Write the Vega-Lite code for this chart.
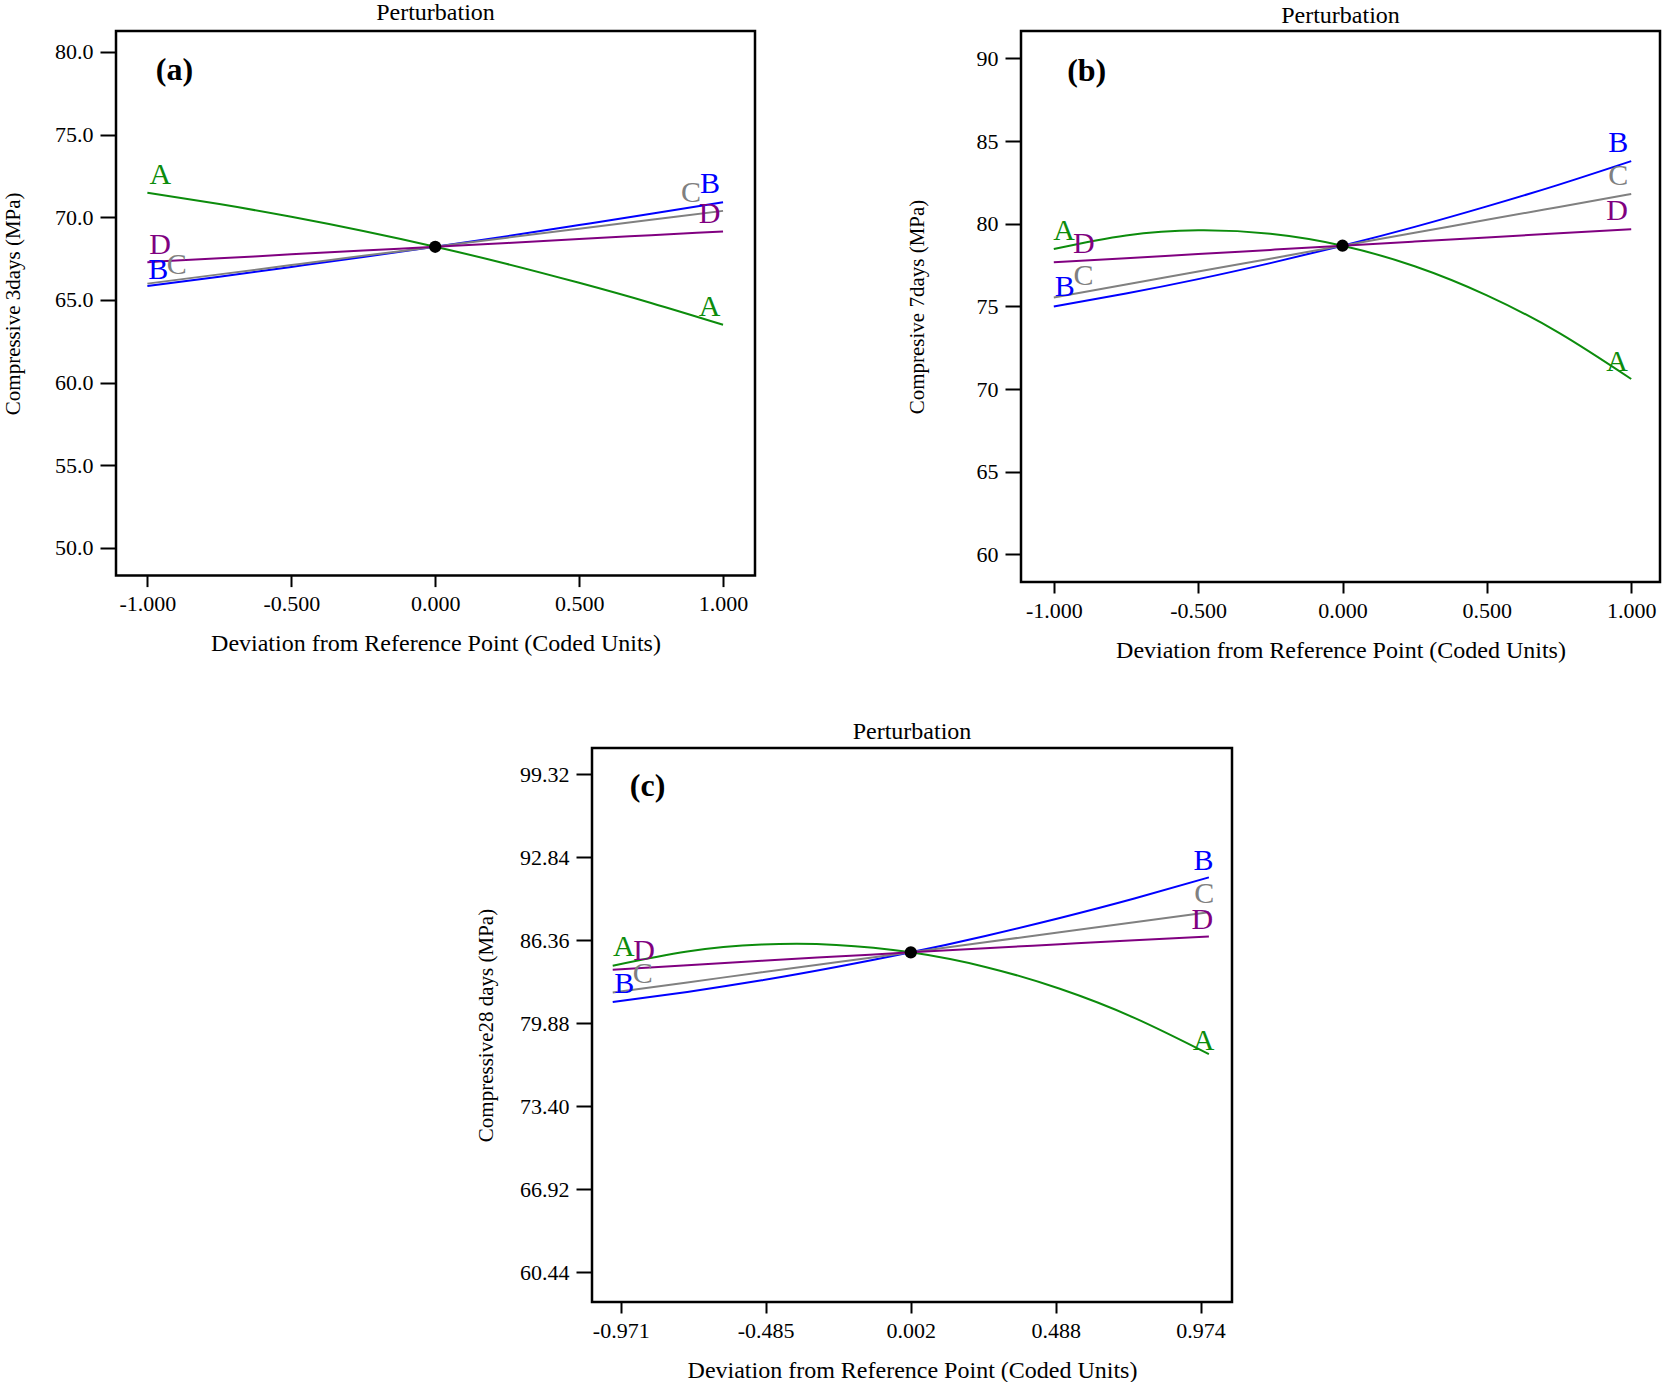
{
  "$schema": "https://vega.github.io/schema/vega-lite/v6.json",
  "autosize": {"type": "pad"},
  "padding": {"left": 1, "top": 0, "right": 0, "bottom": 0},
  "background": "white",
  "spacing": 54,
  "config": {
    "font": "Liberation Serif",
    "view": {"stroke": "black", "strokeWidth": 2.5},
    "axis": {
      "domain": false, "grid": false, "ticks": true, "tickColor": "black", "tickWidth": 2,
      "labelFont": "Liberation Serif", "labelFontSize": 22, "labelColor": "black",
      "labelFlush": false, "labelOverlap": false,
      "titleFont": "Liberation Serif", "titleFontWeight": "normal", "titleColor": "black"
    },
    "axisX": {"tickSize": 11, "labelPadding": 7, "titleFontSize": 24, "titlePadding": 17},
    "axisY": {"tickSize": 16, "labelPadding": 7, "titleFontSize": 21},
    "title": {"font": "Liberation Serif", "fontSize": 24, "fontWeight": "normal", "color": "black", "anchor": "middle", "frame": "group", "baseline": "alphabetic"},
    "text": {"font": "Liberation Serif"}
  },
  "vconcat": [
    {
      "hconcat": [
        {
          "width": 639, "height": 544.6,
          "title": {"text": "Perturbation", "offset": 5.6},
          "data": {"values": [
            {"kind": "curve", "series": "A", "x": -1, "y": 71.48},
            {"kind": "curve", "series": "A", "x": -0.75, "y": 70.80},
            {"kind": "curve", "series": "A", "x": -0.5, "y": 70.03},
            {"kind": "curve", "series": "A", "x": -0.25, "y": 69.17},
            {"kind": "curve", "series": "A", "x": 0, "y": 68.22},
            {"kind": "curve", "series": "A", "x": 0.25, "y": 67.18},
            {"kind": "curve", "series": "A", "x": 0.5, "y": 66.04},
            {"kind": "curve", "series": "A", "x": 0.75, "y": 64.82},
            {"kind": "curve", "series": "A", "x": 1, "y": 63.50},
            {"kind": "curve", "series": "B", "x": -1, "y": 65.85},
            {"kind": "curve", "series": "B", "x": -0.75, "y": 66.41},
            {"kind": "curve", "series": "B", "x": -0.5, "y": 67.00},
            {"kind": "curve", "series": "B", "x": -0.25, "y": 67.60},
            {"kind": "curve", "series": "B", "x": 0, "y": 68.22},
            {"kind": "curve", "series": "B", "x": 0.25, "y": 68.86},
            {"kind": "curve", "series": "B", "x": 0.5, "y": 69.53},
            {"kind": "curve", "series": "B", "x": 0.75, "y": 70.21},
            {"kind": "curve", "series": "B", "x": 1, "y": 70.91},
            {"kind": "curve", "series": "C", "x": -1, "y": 65.99},
            {"kind": "curve", "series": "C", "x": -0.75, "y": 66.55},
            {"kind": "curve", "series": "C", "x": -0.5, "y": 67.11},
            {"kind": "curve", "series": "C", "x": -0.25, "y": 67.67},
            {"kind": "curve", "series": "C", "x": 0, "y": 68.22},
            {"kind": "curve", "series": "C", "x": 0.25, "y": 68.77},
            {"kind": "curve", "series": "C", "x": 0.5, "y": 69.31},
            {"kind": "curve", "series": "C", "x": 0.75, "y": 69.85},
            {"kind": "curve", "series": "C", "x": 1, "y": 70.39},
            {"kind": "curve", "series": "D", "x": -1, "y": 67.29},
            {"kind": "curve", "series": "D", "x": -0.75, "y": 67.52},
            {"kind": "curve", "series": "D", "x": -0.5, "y": 67.76},
            {"kind": "curve", "series": "D", "x": -0.25, "y": 67.99},
            {"kind": "curve", "series": "D", "x": 0, "y": 68.22},
            {"kind": "curve", "series": "D", "x": 0.25, "y": 68.45},
            {"kind": "curve", "series": "D", "x": 0.5, "y": 68.69},
            {"kind": "curve", "series": "D", "x": 0.75, "y": 68.92},
            {"kind": "curve", "series": "D", "x": 1, "y": 69.15},
            {"kind": "ref", "x": 0, "y": 68.22},
            {"kind": "label", "series": "A", "x": -0.955, "y": 72.54},
            {"kind": "label", "series": "D", "x": -0.956, "y": 68.32},
            {"kind": "label", "series": "B", "x": -0.962, "y": 66.84},
            {"kind": "label", "series": "C", "x": -0.898, "y": 67.12},
            {"kind": "label", "series": "B", "x": 0.955, "y": 72.03},
            {"kind": "label", "series": "C", "x": 0.889, "y": 71.45},
            {"kind": "label", "series": "D", "x": 0.953, "y": 70.2},
            {"kind": "label", "series": "A", "x": 0.953, "y": 64.57},
            {"kind": "panel", "text": "(a)", "x": -0.906, "y": 78.92}
          ]},
          "encoding": {
            "x": {"field": "x", "type": "quantitative", "scale": {"domain": [-1.109, 1.111], "nice": false, "zero": false},
                  "axis": {"title": "Deviation from Reference Point (Coded Units)", "values": [-1, -0.5, 0, 0.5, 1], "labelExpr": "replace(format(datum.value, '.3f'), '\u2212', '-')"}},
            "y": {"field": "y", "type": "quantitative", "scale": {"domain": [48.33, 81.27], "nice": false, "zero": false},
                  "axis": {"title": "Compressive 3days (MPa)", "values": [50, 55, 60, 65, 70, 75, 80], "format": ".1f", "titlePadding": 31}}
          },
          "layer": [
            {"transform": [{"filter": "datum.kind == 'curve'"}],
             "mark": {"type": "line", "strokeWidth": 2, "interpolate": "natural"},
             "encoding": {"color": {"field": "series", "type": "nominal", "scale": {"domain": ["A", "B", "C", "D"], "range": ["#0c8c0c", "#0000ff", "#808080", "#800080"]}, "legend": null}}},
            {"transform": [{"filter": "datum.kind == 'ref'"}],
             "mark": {"type": "point", "filled": true, "color": "black", "opacity": 1, "size": 150}},
            {"transform": [{"filter": "datum.kind == 'label'"}],
             "mark": {"type": "text", "fontSize": 30, "align": "center", "baseline": "middle"},
             "encoding": {"text": {"field": "series"}, "color": {"field": "series", "type": "nominal", "legend": null}}},
            {"transform": [{"filter": "datum.kind == 'panel'"}],
             "mark": {"type": "text", "fontSize": 32, "fontWeight": "bold", "color": "black", "align": "center", "baseline": "middle"},
             "encoding": {"text": {"field": "text"}}}
          ]
        },
        {
          "width": 639, "height": 551,
          "title": {"text": "Perturbation", "offset": 3.4},
          "data": {"values": [
            {"kind": "curve", "series": "A", "x": -1, "y": 78.47},
            {"kind": "curve", "series": "A", "x": -0.75, "y": 79.29},
            {"kind": "curve", "series": "A", "x": -0.5, "y": 79.60},
            {"kind": "curve", "series": "A", "x": -0.25, "y": 79.39},
            {"kind": "curve", "series": "A", "x": 0, "y": 78.67},
            {"kind": "curve", "series": "A", "x": 0.25, "y": 77.43},
            {"kind": "curve", "series": "A", "x": 0.5, "y": 75.67},
            {"kind": "curve", "series": "A", "x": 0.75, "y": 73.40},
            {"kind": "curve", "series": "A", "x": 1, "y": 70.61},
            {"kind": "curve", "series": "B", "x": -1, "y": 75.00},
            {"kind": "curve", "series": "B", "x": -0.75, "y": 75.78},
            {"kind": "curve", "series": "B", "x": -0.5, "y": 76.65},
            {"kind": "curve", "series": "B", "x": -0.25, "y": 77.62},
            {"kind": "curve", "series": "B", "x": 0, "y": 78.67},
            {"kind": "curve", "series": "B", "x": 0.25, "y": 79.81},
            {"kind": "curve", "series": "B", "x": 0.5, "y": 81.05},
            {"kind": "curve", "series": "B", "x": 0.75, "y": 82.37},
            {"kind": "curve", "series": "B", "x": 1, "y": 83.79},
            {"kind": "curve", "series": "C", "x": -1, "y": 75.54},
            {"kind": "curve", "series": "C", "x": -0.75, "y": 76.32},
            {"kind": "curve", "series": "C", "x": -0.5, "y": 77.11},
            {"kind": "curve", "series": "C", "x": -0.25, "y": 77.89},
            {"kind": "curve", "series": "C", "x": 0, "y": 78.67},
            {"kind": "curve", "series": "C", "x": 0.25, "y": 79.45},
            {"kind": "curve", "series": "C", "x": 0.5, "y": 80.24},
            {"kind": "curve", "series": "C", "x": 0.75, "y": 81.02},
            {"kind": "curve", "series": "C", "x": 1, "y": 81.80},
            {"kind": "curve", "series": "D", "x": -1, "y": 77.67},
            {"kind": "curve", "series": "D", "x": -0.75, "y": 77.92},
            {"kind": "curve", "series": "D", "x": -0.5, "y": 78.17},
            {"kind": "curve", "series": "D", "x": -0.25, "y": 78.42},
            {"kind": "curve", "series": "D", "x": 0, "y": 78.67},
            {"kind": "curve", "series": "D", "x": 0.25, "y": 78.92},
            {"kind": "curve", "series": "D", "x": 0.5, "y": 79.17},
            {"kind": "curve", "series": "D", "x": 0.75, "y": 79.42},
            {"kind": "curve", "series": "D", "x": 1, "y": 79.67},
            {"kind": "ref", "x": 0, "y": 78.67},
            {"kind": "label", "series": "A", "x": -0.964, "y": 79.54},
            {"kind": "label", "series": "D", "x": -0.896, "y": 78.78},
            {"kind": "label", "series": "C", "x": -0.897, "y": 76.86},
            {"kind": "label", "series": "B", "x": -0.962, "y": 76.15},
            {"kind": "label", "series": "B", "x": 0.955, "y": 84.88},
            {"kind": "label", "series": "C", "x": 0.955, "y": 82.9},
            {"kind": "label", "series": "D", "x": 0.951, "y": 80.8},
            {"kind": "label", "series": "A", "x": 0.951, "y": 71.64},
            {"kind": "panel", "text": "(b)", "x": -0.886, "y": 89.25}
          ]},
          "encoding": {
            "x": {"field": "x", "type": "quantitative", "scale": {"domain": [-1.1136, 1.0997], "nice": false, "zero": false},
                  "axis": {"title": "Deviation from Reference Point (Coded Units)", "values": [-1, -0.5, 0, 0.5, 1], "labelExpr": "replace(format(datum.value, '.3f'), '\u2212', '-')"}},
            "y": {"field": "y", "type": "quantitative", "scale": {"domain": [58.33, 91.66], "nice": false, "zero": false},
                  "axis": {"title": "Compresive 7days (MPa)", "values": [60, 65, 70, 75, 80, 85, 90], "format": "d", "titlePadding": 49}}
          },
          "layer": [
            {"transform": [{"filter": "datum.kind == 'curve'"}],
             "mark": {"type": "line", "strokeWidth": 2, "interpolate": "natural"},
             "encoding": {"color": {"field": "series", "type": "nominal", "scale": {"domain": ["A", "B", "C", "D"], "range": ["#0c8c0c", "#0000ff", "#808080", "#800080"]}, "legend": null}}},
            {"transform": [{"filter": "datum.kind == 'ref'"}],
             "mark": {"type": "point", "filled": true, "color": "black", "opacity": 1, "size": 150}},
            {"transform": [{"filter": "datum.kind == 'label'"}],
             "mark": {"type": "text", "fontSize": 30, "align": "center", "baseline": "middle"},
             "encoding": {"text": {"field": "series"}, "color": {"field": "series", "type": "nominal", "legend": null}}},
            {"transform": [{"filter": "datum.kind == 'panel'"}],
             "mark": {"type": "text", "fontSize": 32, "fontWeight": "bold", "color": "black", "align": "center", "baseline": "middle"},
             "encoding": {"text": {"field": "text"}}}
          ]
        }
      ],
      "spacing": 147
    },
    {
      "hconcat": [
        {
          "width": 337.7, "height": 10,
          "view": {"stroke": null},
          "data": {"values": [{"v": 0}]},
          "mark": {"type": "point", "opacity": 0}
        },
        {
          "width": 640, "height": 554,
          "title": {"text": "Perturbation", "offset": 4},
          "data": {"values": [
            {"kind": "curve", "series": "A", "x": -0.998, "y": 84.35},
            {"kind": "curve", "series": "A", "x": -0.748, "y": 85.46},
            {"kind": "curve", "series": "A", "x": -0.498, "y": 86.00},
            {"kind": "curve", "series": "A", "x": -0.248, "y": 85.98},
            {"kind": "curve", "series": "A", "x": 0.002, "y": 85.40},
            {"kind": "curve", "series": "A", "x": 0.252, "y": 84.26},
            {"kind": "curve", "series": "A", "x": 0.502, "y": 82.55},
            {"kind": "curve", "series": "A", "x": 0.752, "y": 80.28},
            {"kind": "curve", "series": "A", "x": 1.002, "y": 77.45},
            {"kind": "curve", "series": "B", "x": -0.998, "y": 81.52},
            {"kind": "curve", "series": "B", "x": -0.748, "y": 82.31},
            {"kind": "curve", "series": "B", "x": -0.498, "y": 83.21},
            {"kind": "curve", "series": "B", "x": -0.248, "y": 84.25},
            {"kind": "curve", "series": "B", "x": 0.002, "y": 85.40},
            {"kind": "curve", "series": "B", "x": 0.252, "y": 86.68},
            {"kind": "curve", "series": "B", "x": 0.502, "y": 88.08},
            {"kind": "curve", "series": "B", "x": 0.752, "y": 89.60},
            {"kind": "curve", "series": "B", "x": 1.002, "y": 91.25},
            {"kind": "curve", "series": "C", "x": -0.998, "y": 82.27},
            {"kind": "curve", "series": "C", "x": -0.748, "y": 83.05},
            {"kind": "curve", "series": "C", "x": -0.498, "y": 83.84},
            {"kind": "curve", "series": "C", "x": -0.248, "y": 84.62},
            {"kind": "curve", "series": "C", "x": 0.002, "y": 85.40},
            {"kind": "curve", "series": "C", "x": 0.252, "y": 86.18},
            {"kind": "curve", "series": "C", "x": 0.502, "y": 86.97},
            {"kind": "curve", "series": "C", "x": 0.752, "y": 87.75},
            {"kind": "curve", "series": "C", "x": 1.002, "y": 88.53},
            {"kind": "curve", "series": "D", "x": -0.998, "y": 84.04},
            {"kind": "curve", "series": "D", "x": -0.748, "y": 84.39},
            {"kind": "curve", "series": "D", "x": -0.498, "y": 84.74},
            {"kind": "curve", "series": "D", "x": -0.248, "y": 85.07},
            {"kind": "curve", "series": "D", "x": 0.002, "y": 85.40},
            {"kind": "curve", "series": "D", "x": 0.252, "y": 85.72},
            {"kind": "curve", "series": "D", "x": 0.502, "y": 86.03},
            {"kind": "curve", "series": "D", "x": 0.752, "y": 86.34},
            {"kind": "curve", "series": "D", "x": 1.002, "y": 86.64},
            {"kind": "ref", "x": 0.002, "y": 85.40},
            {"kind": "label", "series": "A", "x": -0.961, "y": 85.85},
            {"kind": "label", "series": "D", "x": -0.893, "y": 85.48},
            {"kind": "label", "series": "C", "x": -0.897, "y": 83.72},
            {"kind": "label", "series": "B", "x": -0.959, "y": 82.95},
            {"kind": "label", "series": "B", "x": 0.984, "y": 92.52},
            {"kind": "label", "series": "C", "x": 0.986, "y": 89.92},
            {"kind": "label", "series": "D", "x": 0.98, "y": 87.96},
            {"kind": "label", "series": "A", "x": 0.984, "y": 78.5},
            {"kind": "panel", "text": "(c)", "x": -0.881, "y": 98.38}
          ]},
          "encoding": {
            "x": {"field": "x", "type": "quantitative", "scale": {"domain": [-1.0675, 1.0795], "nice": false, "zero": false},
                  "axis": {"title": "Deviation from Reference Point (Coded Units)", "values": [-0.971, -0.485, 0.002, 0.488, 0.974], "labelExpr": "replace(format(datum.value, '.3f'), '\u2212', '-')"}},
            "y": {"field": "y", "type": "quantitative", "scale": {"domain": [58.1, 101.35], "nice": false, "zero": false},
                  "axis": {"title": "Compressive28 days (MPa)", "values": [60.44, 66.92, 73.40, 79.88, 86.36, 92.84, 99.32], "format": ".2f", "titlePadding": 23}}
          },
          "layer": [
            {"transform": [{"filter": "datum.kind == 'curve'"}],
             "mark": {"type": "line", "strokeWidth": 2, "interpolate": "natural"},
             "encoding": {"color": {"field": "series", "type": "nominal", "scale": {"domain": ["A", "B", "C", "D"], "range": ["#0c8c0c", "#0000ff", "#808080", "#800080"]}, "legend": null}}},
            {"transform": [{"filter": "datum.kind == 'ref'"}],
             "mark": {"type": "point", "filled": true, "color": "black", "opacity": 1, "size": 150}},
            {"transform": [{"filter": "datum.kind == 'label'"}],
             "mark": {"type": "text", "fontSize": 30, "align": "center", "baseline": "middle"},
             "encoding": {"text": {"field": "series"}, "color": {"field": "series", "type": "nominal", "legend": null}}},
            {"transform": [{"filter": "datum.kind == 'panel'"}],
             "mark": {"type": "text", "fontSize": 32, "fontWeight": "bold", "color": "black", "align": "center", "baseline": "middle"},
             "encoding": {"text": {"field": "text"}}}
          ]
        }
      ],
      "spacing": 20
    }
  ]
}
